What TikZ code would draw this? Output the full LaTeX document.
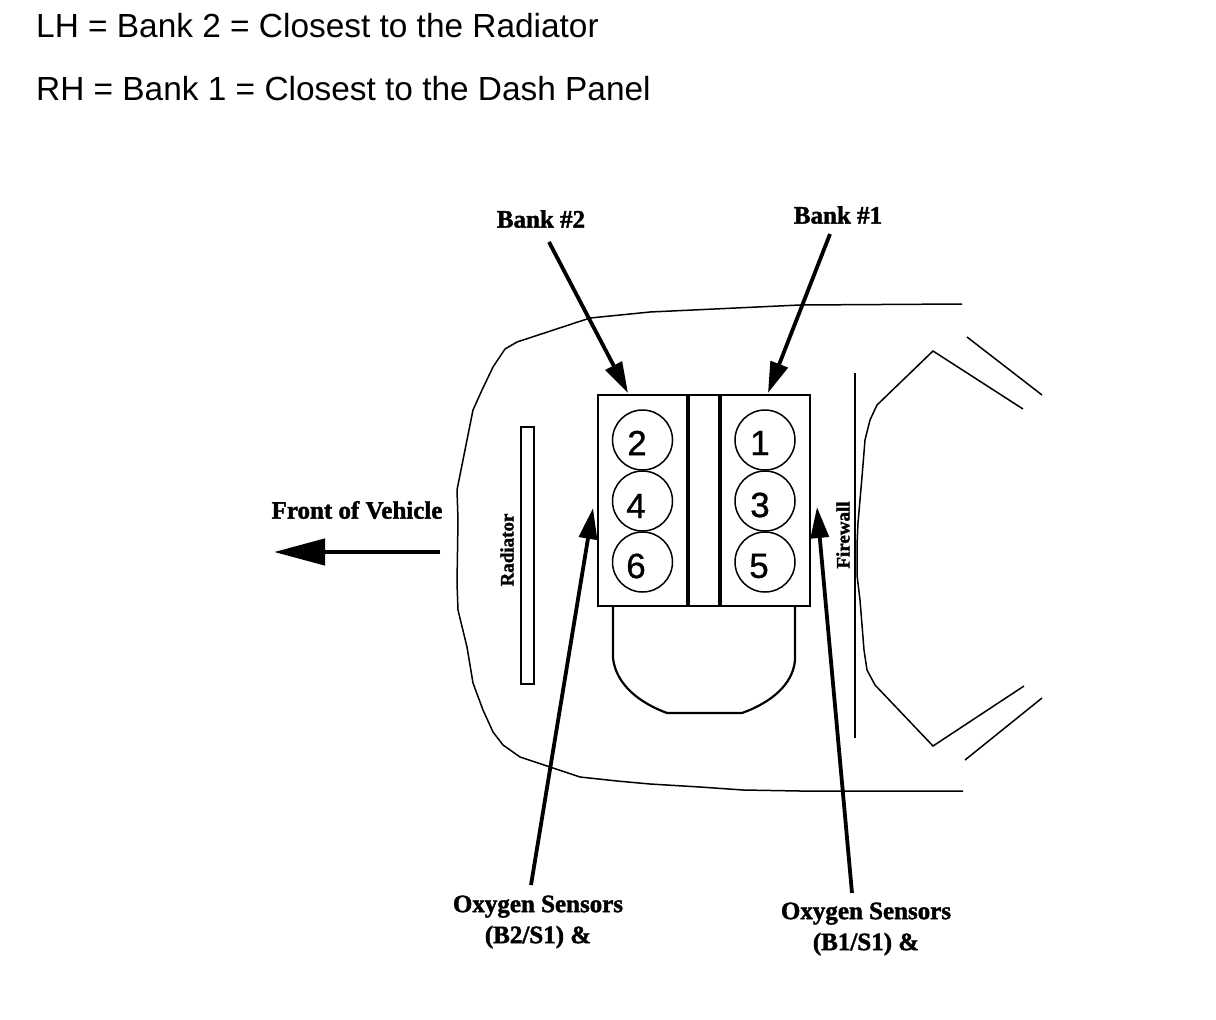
\documentclass[tikz,border=0pt]{standalone}
\usepackage{fontspec}
\setmainfont{Liberation Sans}
\newfontfamily\lblfont{Liberation Serif}[BoldFeatures={FakeBold=1.6}]
\newfontfamily\digitfont{Liberation Sans}[FakeBold=0.8]
\usetikzlibrary{arrows.meta}
\tikzset{
  x=1pt,y=-1pt,
  headtext/.style={anchor=west,inner sep=0pt,font=\fontsize{33.4}{36}\selectfont},
  label/.style={inner sep=1pt,align=center,font=\lblfont\bfseries\fontsize{25}{31}\selectfont},
  smalllabel/.style={inner sep=0pt,rotate=90,font=\lblfont\bfseries\fontsize{19}{22}\selectfont},
  thin outline/.style={line width=1.5pt,black},
  heavy outline/.style={line width=2.2pt,black},
  block/.style={line width=2.6pt,black},
  cyl/.style={draw,circle,line width=1.5pt,minimum size=60pt,inner sep=0pt},
  digit/.style={inner sep=0pt,font=\digitfont\fontsize{35}{38}\selectfont},
  pointer/.style={line width=3.8pt,-{Triangle[length=31pt,width=18pt]}},
}
\begin{document}
\begin{tikzpicture}
\useasboundingbox (0,0) rectangle (1216,1020);
\node[headtext] (h1) at (36,26) {LH = Bank 2 = Closest to the Radiator};
\node[headtext] (h2) at (36,89) {RH = Bank 1 = Closest to the Dash Panel};
% body outline
\draw[thin outline] (962,304) -- (800,305) -- (650,312) -- (590,318) -- (517,342) -- (505,349) -- (493,367) -- (482,390) -- (473,410) -- (465,450) -- (457,490) -- (458,520) -- (457,583) -- (458,610) -- (467,647) -- (473,683) -- (483,710) -- (493,732) -- (503,745) -- (520,757) -- (550,767) -- (580,777) -- (617,781) -- (650,784) -- (700,787) -- (743,790) -- (800,791) -- (963,791);
% firewall and cabin
\draw[thin outline] (855,373) -- (855,738);
\draw[thin outline] (1023,409) -- (933,351) -- (877,405) -- (870,420) -- (865,440) -- (862,477) -- (858,523) -- (857,545) -- (857,575) -- (860,600) -- (864,650) -- (867,670) -- (875,685) -- (933,746) -- (1024,686);
\draw[thin outline] (967,337) -- (1042,395);
\draw[thin outline] (965,760) -- (1042,698);
% radiator
\node[draw,line width=2pt,minimum width=13pt,minimum height=257pt,inner sep=0pt] (rad) at (527.5,555.5) {};
\node[smalllabel] (radl) at (507,550) {Radiator};
\node[smalllabel] (firel) at (843,535) {Firewall};
% engine
\node[draw,block,minimum width=212pt,minimum height=211pt,inner sep=0pt] (eng) at (704,500.5) {};
\draw[line width=3.4pt] (688,395) -- (688,606);
\draw[line width=3.4pt] (720,395) -- (720,606);
\draw[heavy outline] (613,606) -- (613,658) .. controls (616,685) and (640,703) .. (667,713) -- (742,713) .. controls (770,703) and (793,685) .. (795,660) -- (795,606);
\node[cyl] (c2) at (642.5,440) {};
\node[cyl] (c4) at (642.5,501) {};
\node[cyl] (c6) at (642.5,562) {};
\node[cyl] (c1) at (765,440) {};
\node[cyl] (c3) at (765,501) {};
\node[cyl] (c5) at (765,562) {};
\node[digit] (d2) at (637,443) {2};
\node[digit] (d4) at (636,506) {4};
\node[digit] (d6) at (636,566) {6};
\node[digit] (d1) at (760,443) {1};
\node[digit] (d3) at (760,505) {3};
\node[digit] (d5) at (759,566) {5};
% labels
\node[label] (b2) at (541,219) {Bank \#2};
\node[label] (b1) at (838,215) {Bank \#1};
\node[label] (fr) at (357,510) {Front of Vehicle};
\node[label] (ox2) at (538,922) {Oxygen Sensors\\(B2/S1) \&};
\node[label] (ox1) at (866,929) {Oxygen Sensors\\(B1/S1) \&};
% connector ends
\coordinate (b2from) at (549,242);
\coordinate (b2to) at (628,393);
\coordinate (b1from) at (830,234);
\coordinate (b1to) at (768,393);
\coordinate (ox2from) at (531,885);
\coordinate (ox2to) at (593,508);
\coordinate (ox1from) at (852,893);
\coordinate (ox1to) at (817,507);
\coordinate (frfrom) at (440,552);
\coordinate (frto) at (274,552);
\draw[pointer] (b2from) -- (b2to);
\draw[pointer] (b1from) -- (b1to);
\draw[pointer] (ox2from) -- (ox2to);
\draw[pointer] (ox1from) -- (ox1to);
\draw[line width=4.5pt,-{Triangle[length=51pt,width=26pt]}] (frfrom) -- (frto);
\end{tikzpicture}
\end{document}
